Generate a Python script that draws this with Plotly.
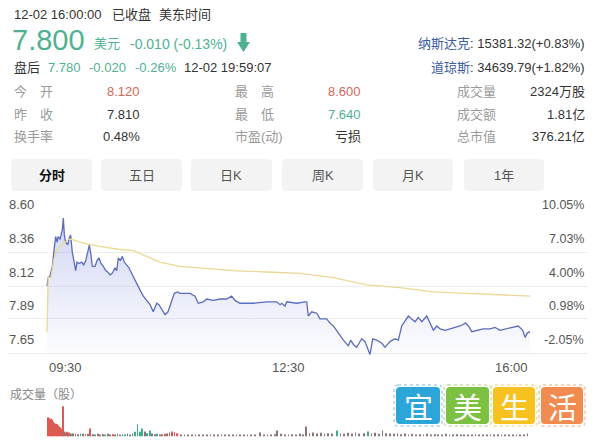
import plotly.graph_objects as go

W, H = 600, 444
FONT = "Liberation Sans, Noto Sans CJK SC, sans-serif"

# ---------------- data ----------------
price_minutes = [0, 1, 2.4, 4.3, 5.9, 7, 8.1, 9.1, 10.5, 11.3,
                 12.4, 13.2, 14, 15.1, 16.7, 18, 19.1, 20.4, 21.6, 22.6,
                 23.2, 24.2, 25.8, 28, 29.6, 31.3, 32.9, 34.2, 35.5, 36.6,
                 38.8, 40.4, 42, 43.6, 45.5, 47.4, 49, 50.9, 52.7, 54.9,
                 56.3, 57.6, 59.2, 60.8, 62.4, 64.4, 66.2, 68.4, 71.1, 73.7,
                 75.9, 77.8, 80.5, 83.2, 85.8, 88.6, 90.4, 93.1, 95.3, 97.7,
                 100.7, 102.8, 105.5, 107.4, 111.4, 115.5, 119.5, 122.2, 126.2, 129,
                 134.3, 139.7, 145.1, 149.1, 151.8, 155.8, 166.6, 177.4, 185.5, 188.2,
                 189.5, 192.2, 193.6, 201.6, 208.3, 209.7, 211, 213.7, 217.8, 220.4,
                 225.8, 228.5, 231.2, 235.2, 239.3, 243.3, 245.2, 247.4, 250.1, 254.1,
                 256.8, 260.8, 263, 266.2, 270.3, 272.9, 277, 281, 283.7, 286.4,
                 289.1, 291.8, 294.5, 297.2, 299.9, 302.6, 306.6, 309.3, 312, 314.7,
                 317.4, 321.4, 325.4, 329.5, 333.5, 338.1, 340.3, 343, 347, 352.3,
                 357.7, 361.8, 365.8, 371.2, 376.6, 380.6, 384.1, 386, 387.8, 390]
price_values = [8.12, 8.18, 8.19, 8.26, 8.39, 8.47, 8.43, 8.47, 8.45, 8.49,
                8.52, 8.60, 8.48, 8.43, 8.41, 8.46, 8.48, 8.36, 8.30, 8.27,
                8.23, 8.29, 8.28, 8.29, 8.27, 8.30, 8.36, 8.41, 8.34, 8.26,
                8.26, 8.30, 8.32, 8.28, 8.26, 8.23, 8.22, 8.20, 8.21, 8.25,
                8.23, 8.32, 8.30, 8.33, 8.29, 8.27, 8.25, 8.21, 8.16, 8.12,
                8.08, 8.05, 8.02, 7.99, 7.94, 8.00, 7.99, 7.95, 7.92, 7.94,
                8.01, 8.07, 8.08, 8.07, 8.07, 8.07, 8.05, 8.00, 8.01, 8.03,
                8.02, 8.03, 8.03, 8.05, 8.02, 8.00, 8.00, 8.01, 8.01, 7.99,
                8.00, 7.98, 8.01, 8.00, 8.01, 8.01, 7.91, 7.94, 7.93, 7.89,
                7.89, 7.86, 7.84, 7.79, 7.74, 7.70, 7.74, 7.71, 7.69, 7.75,
                7.73, 7.64, 7.75, 7.74, 7.72, 7.69, 7.73, 7.75, 7.74, 7.84,
                7.88, 7.91, 7.89, 7.87, 7.90, 7.87, 7.91, 7.86, 7.81, 7.84,
                7.82, 7.81, 7.82, 7.83, 7.84, 7.86, 7.84, 7.80, 7.81, 7.82,
                7.82, 7.83, 7.81, 7.82, 7.83, 7.84, 7.81, 7.76, 7.79, 7.80]

avg_minutes = [0, 1, 3.2, 5.1, 7, 10.5, 14.5, 17.2, 19.9, 30.7,
               42.8, 57.3, 69.7, 75.1, 83.2, 91.2, 107.4, 123.5, 150.4, 177.4,
               204.3, 231.2, 258.1, 285, 312, 338.9, 365.8, 390]
avg_values = [7.80, 8.18, 8.18, 8.29, 8.36, 8.40, 8.43, 8.45, 8.45, 8.42,
              8.40, 8.38, 8.37, 8.35, 8.32, 8.29, 8.26, 8.25, 8.23, 8.22,
              8.21, 8.18, 8.13, 8.11, 8.08, 8.07, 8.06, 8.05]

price_ticks = [8.60, 8.36, 8.12, 7.89, 7.65]
price_tick_labels = ["8.60", "8.36", "8.12", "7.89", "7.65"]
pct_tick_labels = ["10.05%", "7.03%", "4.00%", "0.98%", "-2.05%"]
time_tick_minutes = [0, 195, 390]
time_tick_labels = ["09:30", "12:30", "16:00"]

vol_minutes = [1, 2, 3, 4, 5, 6, 7, 8, 9, 10,
               11, 12, 13, 14, 15, 16, 17, 18, 19, 20,
               21, 23, 25, 27, 29, 31, 33, 35, 37, 39,
               41, 43, 45, 47, 49, 51, 53, 55, 57, 59,
               61, 63, 65, 67, 69, 71, 73, 75, 77, 79,
               81, 83, 85, 87, 89, 91, 93, 95, 97, 99,
               101, 103, 105, 108, 111, 114, 117, 120, 123, 126,
               129, 132, 135, 138, 141, 144, 147, 150, 153, 156,
               159, 162, 165, 168, 172, 175, 178, 181, 184, 186,
               189, 192, 195, 198, 201, 204, 207, 209, 212, 215,
               218, 221, 224, 227, 230, 234, 237, 240, 243, 246,
               249, 252, 256, 259, 262, 265, 268, 271, 274, 277,
               280, 283, 286, 289, 292, 295, 298, 301, 304, 307,
               310, 313, 316, 319, 322, 325, 328, 331, 334, 337,
               340, 343, 346, 349, 352, 355, 358, 361, 364, 367,
               370, 373, 376, 379, 382, 385, 388]
vol_values = [57, 54, 53, 50, 44, 40, 38, 36, 33, 30,
              27, 24, 90, 15, 12, 14, 10, 12, 9, 8,
              9, 8, 7, 9, 8, 7, 8, 24, 7, 6,
              8, 6, 7, 5, 8, 6, 7, 5, 9, 6,
              7, 5, 8, 6, 9, 14, 36, 14, 24, 15,
              10, 18, 9, 7, 8, 6, 7, 8, 9, 12,
              15, 13, 10, 6, 4, 5, 3, 4, 3, 5,
              3, 4, 3, 5, 3, 4, 3, 4, 3, 5,
              3, 4, 3, 6, 12, 4, 6, 4, 7, 18,
              8, 6, 5, 7, 6, 8, 6, 30, 10, 12,
              9, 11, 8, 10, 9, 18, 10, 8, 11, 9,
              12, 8, 10, 15, 9, 11, 8, 18, 10, 9,
              8, 10, 7, 9, 6, 8, 5, 7, 6, 8,
              5, 7, 6, 5, 8, 6, 5, 7, 6, 5,
              6, 5, 7, 5, 6, 4, 6, 5, 7, 5,
              6, 5, 4, 6, 5, 4, 9]
vol_dirs = (list("rrrrrrrrrr") + list("rrrdrrdrdg") + list("drdgdrdrdg") +
            list("drdgddrdgd") + list("dgddgggggd") + list("ggddgddrdr") +
            list("rrrddddddd") + list("dddddddddd") + list("dddddddddd") +
            list("dddddddddd") + list("dddddgdddd") + list("dddgdddddd") +
            list("dddddddddd") + list("dddddddddd") + list("dddddddddd") +
            list("ddddddd"))

# ---------------- helpers ----------------
def px(x):
    return x / W


def py(y):
    return 1 - y / H


GREEN = "#4fb28f"
RED = "#d9665c"
DARK = "#333333"
GRAY = "#9a9a9a"

annotations = []


def text(x, y, s, size=13, color=DARK, xanchor="left", family=None):
    annotations.append(dict(
        x=px(x), y=py(y), xref="paper", yref="paper", text=s, showarrow=False,
        xanchor=xanchor, yanchor="middle",
        font=dict(size=size, color=color, family=family or FONT)))


def rrect(x0, y0, x1, y1, r):
    rx, ry = r / W, r / H
    a, b, c, d = px(x0), py(y0), px(x1), py(y1)
    return (f"M{a+rx},{b} L{c-rx},{b} Q{c},{b} {c},{b-ry} L{c},{d+ry} "
            f"Q{c},{d} {c-rx},{d} L{a+rx},{d} Q{a},{d} {a},{d+ry} "
            f"L{a},{b-ry} Q{a},{b} {a+rx},{b} Z")


shapes = []

# ---------------- header ----------------
text(12, 14, "12-02 16:00:00", 13)
text(110, 14, "已收盘", 13)
text(157, 14, "美东时间", 13)
text(10, 40, "7.800", 29, GREEN)
text(92, 44, "美元", 13, GREEN)
text(128, 44, "-0.010 (-0.13%)", 14, GREEN)
# down arrow
ax = [240.5, 246.5, 246.5, 250, 243.5, 237, 240.5]
ay = [33, 33, 42, 42, 52, 42, 42]
path = "M" + " L".join(f"{px(a)},{py(b)}" for a, b in zip(ax, ay)) + " Z"
shapes.append(dict(type="path", xref="paper", yref="paper", path=path,
                   fillcolor=GREEN, line=dict(width=0)))
text(12, 67, "盘后", 13)
text(46, 67, "7.780", 13, GREEN)
text(87, 67, "-0.020", 13, GREEN)
text(133, 67, "-0.26%", 13, GREEN)
text(182, 67, "12-02 19:59:07", 13)
text(587, 44, '<span style="color:#3b5ca6">纳斯达克</span>: 15381.32(+0.83%)', 13,
     DARK, "right")
text(587, 67, '<span style="color:#3b5ca6">道琼斯</span>: 34639.79(+1.82%)', 13,
     DARK, "right")

rows_y = [91, 114, 136]
col1 = [("今　开", "8.120", RED), ("昨　收", "7.810", DARK), ("换手率", "0.48%", DARK)]
col2 = [("最　高", "8.600", RED), ("最　低", "7.640", GREEN), ("市盈(动)", "亏损", DARK)]
col3 = [("成交量", "2324万股", DARK), ("成交额", "1.81亿", DARK), ("总市值", "376.21亿", DARK)]
for yy, (l1, v1, c1), (l2, v2, c2), (l3, v3, c3) in zip(rows_y, col1, col2, col3):
    text(12, yy, l1, 13, GRAY)
    text(142, yy, v1, 13, c1, "right")
    text(233, yy, l2, 13, GRAY)
    text(363, yy, v2, 13, c2, "right")
    text(455, yy, l3, 13, GRAY)
    text(587, yy, v3, 13, c3, "right")

# tabs
tabs = ["<b>分时</b>", "五日", "日K", "周K", "月K", "1年"]
tab_x = [(11, 92), (101, 182), (191, 272), (282, 363), (373, 453), (464, 544)]
for i, (lab, (x0, x1)) in enumerate(zip(tabs, tab_x)):
    shapes.append(dict(type="path", xref="paper", yref="paper",
                       path=rrect(x0, 159, x1, 191, 4),
                       fillcolor="#f3f3f4", line=dict(width=0), layer="below"))
    text((x0 + x1) / 2, 175, lab, 13, "#111111" if i == 0 else "#555555", "center")

# ---------------- chart axis labels ----------------
for v, lab, plab in zip(price_ticks, price_tick_labels, pct_tick_labels):
    annotations.append(dict(x=px(7), y=v, xref="paper", yref="y", text=lab,
                            showarrow=False, xanchor="left", yanchor="bottom",
                            yshift=4, font=dict(size=13, color="#555555", family=FONT)))
    annotations.append(dict(x=px(586), y=v, xref="paper", yref="y", text=plab,
                            showarrow=False, xanchor="right", yanchor="bottom",
                            yshift=4, font=dict(size=12.5, color="#555555", family=FONT)))
for m, lab, anc in zip(time_tick_minutes, time_tick_labels, ["left", "center", "right"]):
    annotations.append(dict(x=m, y=py(367), xref="x", yref="paper", text=lab,
                            showarrow=False, xanchor=anc, yanchor="middle",
                            font=dict(size=13, color="#555555", family=FONT)))

text(8, 394, "成交量（股）", 12, "#888888")

# watermark
wm_chars = ["宜", "美", "生", "活"]
wm_colors = ["#2ca6d9", "#7dc143", "#f7c21f", "#f28b50"]
wm_border = ["#9fd6ee", "#c2e3a2", "#fbe08c", "#f8c4a5"]
wm_x = [(396, 440), (446, 489), (493, 535), (541, 583)]
for ch, col, bc, (x0, x1) in zip(wm_chars, wm_colors, wm_border, wm_x):
    shapes.append(dict(type="path", xref="paper", yref="paper",
                       path=rrect(x0 - 2, 385, x1 + 2, 426, 4),
                       fillcolor="rgba(0,0,0,0)", line=dict(width=1.5, color=bc, dash="dot")))
    shapes.append(dict(type="path", xref="paper", yref="paper",
                       path=rrect(x0, 387, x1, 424, 4),
                       fillcolor=col, line=dict(width=0)))
    text((x0 + x1) / 2, 406, ch, 29, "white", "center", "Noto Sans CJK SC")

# ---------------- traces ----------------
fig = go.Figure()
fig.add_trace(go.Scatter(
    x=price_minutes, y=price_values, mode="lines",
    line=dict(color="#5a6cc0", width=1.3),
    fill="tozeroy",
    fillgradient=dict(type="vertical", start=7.64, stop=8.60,
                      colorscale=[[0, "rgba(120,135,220,0.02)"],
                                  [1, "rgba(120,135,220,0.34)"]]),
    hoverinfo="skip", xaxis="x", yaxis="y", showlegend=False))
fig.add_trace(go.Scatter(
    x=avg_minutes, y=avg_values, mode="lines",
    line=dict(color="#ecd894", width=1.3),
    hoverinfo="skip", xaxis="x", yaxis="y", showlegend=False))

color_map = {"r": "#dd5a52", "g": "#3cae87", "d": "#8d7474"}
fig.add_trace(go.Bar(
    x=vol_minutes, y=vol_values, width=0.6,
    marker=dict(color=[color_map[d] for d in vol_dirs], line=dict(width=0)),
    hoverinfo="skip", xaxis="x2", yaxis="y2", showlegend=False))

ppm = 483 / 390
x_range = [-(47 - 8) / ppm, 390 + (588 - 530) / ppm]
x_dom = [px(8), px(588)]

fig.update_layout(
    width=W, height=H, margin=dict(l=0, r=0, t=0, b=0),
    paper_bgcolor="white", plot_bgcolor="rgba(0,0,0,0)",
    font=dict(family=FONT, color=DARK),
    showlegend=False,
    xaxis=dict(domain=x_dom, range=x_range, showgrid=False, showticklabels=False,
               zeroline=False, showline=False, ticks="", anchor="y", fixedrange=True),
    yaxis=dict(domain=[py(355.13), py(217.29)], range=[7.635, 8.605],
               tickvals=price_ticks, showticklabels=False, showgrid=True,
               gridcolor="#ececec", gridwidth=1, zeroline=False, ticks="",
               anchor="x", fixedrange=True),
    xaxis2=dict(domain=x_dom, range=x_range, showgrid=False, showticklabels=False,
                zeroline=False, showline=False, ticks="", anchor="y2", fixedrange=True),
    yaxis2=dict(domain=[py(436.5), py(405.5)], range=[0, 92], tickvals=[0],
                showticklabels=False, showgrid=True, gridcolor="#e2e2e2",
                zeroline=False, ticks="", anchor="x2", fixedrange=True),
    annotations=annotations,
    shapes=shapes,
)

fig.write_html("out.html")
